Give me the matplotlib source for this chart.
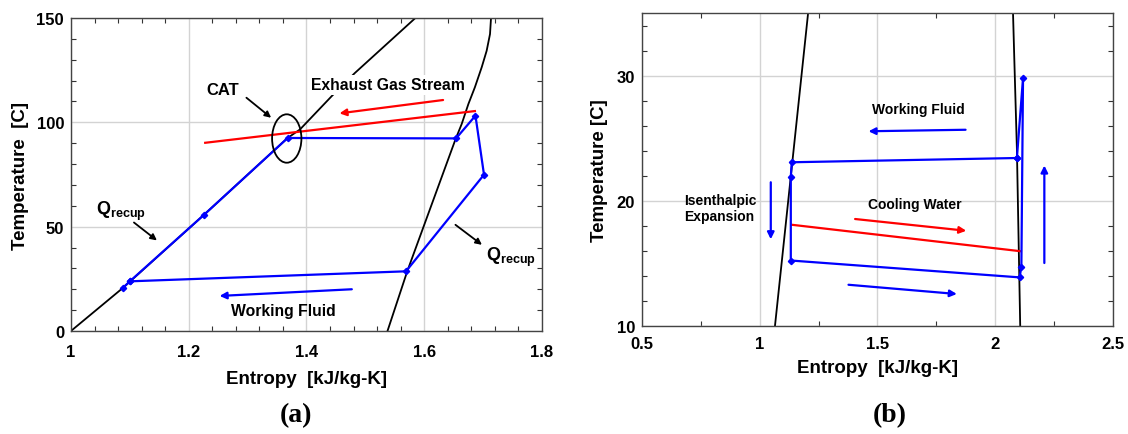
import matplotlib.pyplot as plt
from matplotlib.patches import Ellipse
from matplotlib.ticker import MultipleLocator, FormatStrFormatter

plt.rcParams['font.family'] = ['Liberation Sans', 'DejaVu Sans']
plt.rcParams['font.weight'] = 'bold'
plt.rcParams['mathtext.fontset'] = 'custom'
plt.rcParams['mathtext.bf'] = 'Liberation Sans:bold'
plt.rcParams['mathtext.rm'] = 'Liberation Sans:bold'

# --- (a) recuperated cycle, T-s ---
liq_s = [1.0, 1.088, 1.226, 1.368, 1.389, 1.443, 1.482, 1.583, 1.60]
liq_T = [0, 20.6, 55.7, 92.5, 96.6, 112.6, 123.6, 149.5, 154]
vap_s = [1.5376, 1.571, 1.653, 1.6636, 1.675, 1.686, 1.6976, 1.706, 1.7117, 1.7134]
vap_T = [0, 28.5, 91.8, 99.2, 108.8, 116.8, 126.4, 134.3, 142.3, 150]

cycle_s = [1.088, 1.100, 1.226, 1.368, 1.654, 1.687, 1.7015, 1.569, 1.100]
cycle_T = [20.6, 23.8, 55.7, 92.5, 92.3, 103.2, 74.9, 28.6, 23.8]

gas_s = [1.228, 1.686]
gas_T = [90.2, 105.4]

cat_center = (1.3665, 92.25)
cat_size = (0.0498, 23.2)

# --- (b) condenser side, T-s ---
liq_s_b = [1.065, 1.2055]
liq_T_b = [10, 35]
vap_s_b = [2.0755, 2.081, 2.092, 2.106]
vap_T_b = [35, 31.3, 24.1, 10]

cycle_s_b = [2.092, 1.136, 1.132, 1.132, 2.1035, 2.111, 2.118, 2.092]
cycle_T_b = [23.4, 23.06, 21.9, 15.2, 13.85, 14.7, 29.8, 23.4]

water_s = [1.136, 2.109]
water_T = [18.06, 15.94]

BLUE = '#0000ff'
RED = '#ff0000'
GRID = '#d3d3d3'


def style_axes(ax, xmaj, xmin, ymaj, ymin, xpad):
    ax.xaxis.set_major_locator(MultipleLocator(xmaj))
    ax.xaxis.set_minor_locator(MultipleLocator(xmin))
    ax.yaxis.set_major_locator(MultipleLocator(ymaj))
    ax.yaxis.set_minor_locator(MultipleLocator(ymin))
    ax.xaxis.set_major_formatter(FormatStrFormatter('%g'))
    ax.yaxis.set_major_formatter(FormatStrFormatter('%g'))
    ax.grid(True, which='major', color=GRID, lw=1.0)
    ax.set_axisbelow(True)
    ax.tick_params(which='both', direction='in', top=True, right=True,
                   labelsize=12, color='#333333')
    ax.tick_params(which='major', length=0)
    ax.tick_params(which='minor', length=3.5, width=0.8)
    ax.tick_params(axis='x', which='major', pad=xpad)
    ax.tick_params(axis='y', which='major', pad=5)
    for sp in ax.spines.values():
        sp.set_color('#444444')
        sp.set_linewidth(1.0)
    for lab in ax.get_xticklabels() + ax.get_yticklabels():
        lab.set_fontweight('bold')


def arrow(ax, start, end, color, lw=1.5, ms=10):
    ax.annotate('', xy=end, xytext=start,
                arrowprops=dict(arrowstyle='-|>', color=color, lw=lw,
                                mutation_scale=ms, shrinkA=0, shrinkB=0))


fig = plt.figure(figsize=(11.28, 4.35), dpi=100)

ax1 = fig.add_axes([0.0629, 0.2368, 0.4176, 0.7195])
ax1.plot(liq_s, liq_T, color='black', lw=1.3)
ax1.plot(vap_s, vap_T, color='black', lw=1.3)
ax1.plot(gas_s, gas_T, color=RED, lw=1.6)
ax1.plot(cycle_s, cycle_T, color=BLUE, lw=1.6, marker='D', ms=3.2)
ax1.add_patch(Ellipse(cat_center, cat_size[0], cat_size[1], fill=False,
                      ec='black', lw=1.3, zorder=4))
ax1.set_xlim(1, 1.8)
ax1.set_ylim(0, 150)
style_axes(ax1, 0.2, 0.04, 50, 10, xpad=9.5)
ax1.set_xlabel('Entropy  [kJ/kg-K]', fontsize=13.5, fontweight='bold', labelpad=8)
ax1.set_ylabel('Temperature  [C]', fontsize=13.5, fontweight='bold', labelpad=5)

ax1.text(1.23, 115.5, 'CAT', fontsize=12, va='center', zorder=5)
arrow(ax1, (1.298, 111.8), (1.340, 102.2), 'black', lw=1.3, ms=9)
ax1.text(1.407, 117.9, 'Exhaust Gas Stream', fontsize=11.3, va='center', zorder=5,
         bbox=dict(fc='white', ec='none', pad=1.5))
arrow(ax1, (1.632, 110.7), (1.456, 104.3), RED, lw=1.6)
ax1.text(1.042, 58, r'$\mathbf{Q_{recup}}$', fontsize=13, va='center')
arrow(ax1, (1.107, 52), (1.146, 43.4), 'black', lw=1.3, ms=9)
ax1.text(1.705, 35.7, r'$\mathbf{Q_{recup}}$', fontsize=13, va='center', clip_on=False)
arrow(ax1, (1.653, 50.9), (1.698, 41.3), 'black', lw=1.3, ms=9)
arrow(ax1, (1.477, 20.0), (1.2524, 16.8), BLUE, lw=1.6)
ax1.text(1.36, 9.7, 'Working Fluid', fontsize=11.3, ha='center', va='center')

ax2 = fig.add_axes([0.5691, 0.2494, 0.4176, 0.7184])
ax2.plot(liq_s_b, liq_T_b, color='black', lw=1.3)
ax2.plot(vap_s_b, vap_T_b, color='black', lw=1.3)
ax2.plot(water_s, water_T, color=RED, lw=1.6)
ax2.plot(cycle_s_b, cycle_T_b, color=BLUE, lw=1.6, marker='D', ms=3.2)
ax2.set_xlim(0.5, 2.5)
ax2.set_ylim(10, 35)
style_axes(ax2, 0.5, 0.25, 10, 2, xpad=7.5)
ax2.set_xlabel('Entropy  [kJ/kg-K]', fontsize=13.5, fontweight='bold', labelpad=6)
ax2.set_ylabel('Temperature [C]', fontsize=13.5, fontweight='bold', labelpad=6)

ax2.text(1.672, 27.3, 'Working Fluid', fontsize=10, ha='center', va='center')
arrow(ax2, (1.874, 25.66), (1.462, 25.54), BLUE, lw=1.6)
ax2.text(1.66, 19.7, 'Cooling Water', fontsize=10, ha='center', va='center')
arrow(ax2, (1.405, 18.52), (1.877, 17.58), RED, lw=1.6)
arrow(ax2, (1.377, 13.26), (1.837, 12.52), BLUE, lw=1.6)
arrow(ax2, (2.2085, 15.0), (2.2085, 22.8), BLUE, lw=1.6)
arrow(ax2, (1.047, 21.46), (1.047, 16.9), BLUE, lw=1.6)
ax2.text(0.68, 19.4, 'Isenthalpic\nExpansion', fontsize=10, ha='left', va='center',
         linespacing=1.1)

fig.text(296 / 1128, 1 - 416 / 435, '(a)', family='Liberation Serif',
         fontsize=20, fontweight='bold', ha='center', va='center')
fig.text(890 / 1128, 1 - 416 / 435, '(b)', family='Liberation Serif',
         fontsize=20, fontweight='bold', ha='center', va='center')

fig.savefig('out.png', dpi=100)
